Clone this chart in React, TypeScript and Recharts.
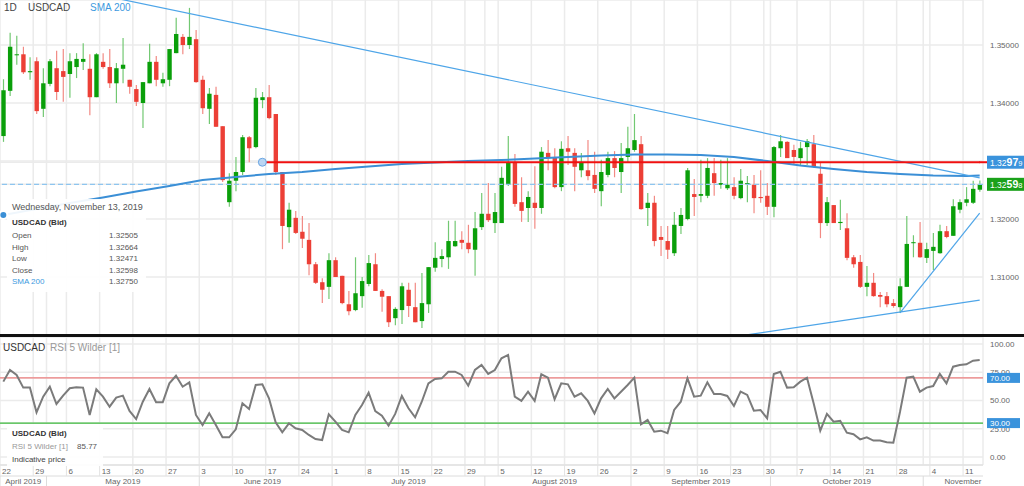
import React from "react"
import { Bar, CartesianGrid, ComposedChart, Line, ReferenceDot, ReferenceLine, XAxis, YAxis } from "recharts"

// USDCAD daily bid candles, 22 Apr 2019 .. 13 Nov 2019 (one entry per trading day)
const opens = [
  1.3343, 1.3421, 1.3483, 1.3484, 1.3453, 1.3472, 1.339, 1.3433, 1.346, 1.3455,
  1.345, 1.3462, 1.3471, 1.3459, 1.341, 1.3471, 1.3462, 1.3434, 1.3459, 1.344,
  1.3424, 1.34, 1.3434, 1.3471, 1.3434, 1.344, 1.3486, 1.3514, 1.35, 1.351,
  1.344, 1.339, 1.3414, 1.336, 1.3229, 1.3266, 1.3281, 1.3341, 1.3324, 1.3405,
  1.341, 1.3381, 1.3281, 1.3186, 1.3202, 1.3178, 1.3164, 1.3122, 1.3091, 1.3083,
  1.3129, 1.3102, 1.3053, 1.3043, 1.3067, 1.3088, 1.3122, 1.3076, 1.3067, 1.3029,
  1.3043, 1.3078, 1.3048, 1.3024, 1.3053, 1.3116, 1.3131, 1.3134, 1.3153, 1.3164,
  1.3159, 1.3147, 1.3186, 1.3209, 1.3193, 1.3193, 1.326, 1.3298, 1.3229, 1.3219,
  1.3228, 1.3219, 1.3314, 1.3307, 1.3255, 1.3322, 1.3314, 1.3284, 1.3284, 1.3276,
  1.3248, 1.3276, 1.3305, 1.3281, 1.3307, 1.3319, 1.3329, 1.3219, 1.3228, 1.3169,
  1.3162, 1.3141, 1.3188, 1.32, 1.3243, 1.324, 1.324, 1.3279, 1.3259, 1.3253,
  1.3255, 1.3236, 1.326, 1.3259, 1.3238, 1.324, 1.3221, 1.3322, 1.3333, 1.3319,
  1.3305, 1.3324, 1.3329, 1.3278, 1.3193, 1.3224, 1.3193, 1.3184, 1.3134, 1.3126,
  1.3083, 1.309, 1.3069, 1.3067, 1.3055, 1.3048, 1.3083, 1.3159, 1.3159, 1.3133,
  1.3145, 1.3141, 1.3179, 1.3171, 1.3216, 1.3228, 1.3228, 1.32505,
]
const highs = [
  1.3441, 1.3521, 1.3516, 1.3497, 1.3479, 1.3479, 1.346, 1.3476, 1.349, 1.3493,
  1.3486, 1.3486, 1.3503, 1.3484, 1.3486, 1.3486, 1.3493, 1.3469, 1.3512, 1.344,
  1.3431, 1.3436, 1.3502, 1.3481, 1.3452, 1.3493, 1.3547, 1.3519, 1.3564, 1.3526,
  1.3447, 1.3426, 1.3428, 1.336, 1.3279, 1.3307, 1.3345, 1.3343, 1.3426, 1.3419,
  1.3431, 1.3381, 1.3281, 1.3228, 1.3214, 1.3205, 1.3193, 1.3126, 1.3098, 1.3141,
  1.3134, 1.3102, 1.3076, 1.3134, 1.31, 1.3138, 1.3141, 1.3079, 1.3067, 1.3048,
  1.309, 1.309, 1.309, 1.3107, 1.3117, 1.316, 1.3148, 1.3197, 1.3197, 1.3179,
  1.319, 1.3212, 1.3245, 1.3262, 1.3245, 1.329, 1.3343, 1.3312, 1.3272, 1.3248,
  1.3291, 1.3324, 1.3336, 1.3322, 1.3334, 1.3343, 1.3322, 1.3314, 1.3336, 1.3316,
  1.3302, 1.3316, 1.3317, 1.3331, 1.3359, 1.3381, 1.3343, 1.3245, 1.324, 1.3188,
  1.3188, 1.3212, 1.3219, 1.3288, 1.3269, 1.3302, 1.3305, 1.3305, 1.3302, 1.3305,
  1.3272, 1.3286, 1.3274, 1.3276, 1.3284, 1.3262, 1.3326, 1.3345, 1.3334, 1.3328,
  1.3333, 1.3338, 1.3345, 1.3298, 1.3238, 1.3224, 1.3233, 1.321, 1.3138, 1.3138,
  1.3119, 1.3107, 1.3074, 1.3074, 1.3062, 1.3098, 1.3205, 1.3172, 1.3195, 1.3159,
  1.3176, 1.319, 1.3188, 1.3234, 1.3234, 1.3255, 1.3266, 1.32664,
]
const lows = [
  1.3333, 1.3412, 1.3466, 1.345, 1.344, 1.3381, 1.3376, 1.3429, 1.3405, 1.3402,
  1.3409, 1.3443, 1.3457, 1.3379, 1.341, 1.3459, 1.3426, 1.34, 1.3434, 1.3416,
  1.3395, 1.3357, 1.3434, 1.3429, 1.3428, 1.3429, 1.3486, 1.3484, 1.3493, 1.3435,
  1.3381, 1.3364, 1.3359, 1.3264, 1.3221, 1.3248, 1.3276, 1.3298, 1.3322, 1.3391,
  1.3372, 1.3276, 1.3148, 1.3159, 1.3174, 1.315, 1.3103, 1.3088, 1.3055, 1.3062,
  1.31, 1.3053, 1.3034, 1.3041, 1.3047, 1.3084, 1.3076, 1.304, 1.3014, 1.3017,
  1.3019, 1.3031, 1.3022, 1.3012, 1.3038, 1.3109, 1.3117, 1.3114, 1.3152, 1.3148,
  1.3141, 1.3102, 1.3181, 1.3195, 1.3176, 1.3193, 1.3257, 1.3221, 1.3195, 1.3195,
  1.3183, 1.3209, 1.3284, 1.3253, 1.3248, 1.3293, 1.3248, 1.3272, 1.3267, 1.3245,
  1.3222, 1.3272, 1.3272, 1.3245, 1.3297, 1.3316, 1.3216, 1.3188, 1.3153, 1.3136,
  1.3131, 1.3136, 1.3174, 1.3198, 1.3205, 1.3229, 1.3236, 1.324, 1.3252, 1.325,
  1.3234, 1.3234, 1.3229, 1.321, 1.3228, 1.3207, 1.3203, 1.3307, 1.3305, 1.3293,
  1.3293, 1.3293, 1.3288, 1.3167, 1.3188, 1.3193, 1.3181, 1.3129, 1.3116, 1.3081,
  1.3067, 1.3066, 1.3048, 1.3048, 1.3047, 1.3038, 1.3083, 1.3134, 1.3133, 1.3124,
  1.3112, 1.314, 1.3167, 1.3171, 1.321, 1.3222, 1.3226, 1.32471,
]
const closes = [
  1.3422, 1.3497, 1.3484, 1.3453, 1.3455, 1.3386, 1.3434, 1.3472, 1.3419, 1.3445,
  1.3472, 1.3476, 1.3476, 1.341, 1.3484, 1.3462, 1.3434, 1.346, 1.3466, 1.3428,
  1.3402, 1.3436, 1.3471, 1.344, 1.3441, 1.3493, 1.3519, 1.35, 1.3514, 1.3436,
  1.3391, 1.3416, 1.3359, 1.3267, 1.3266, 1.3281, 1.3341, 1.3322, 1.3409, 1.341,
  1.3374, 1.3281, 1.3188, 1.3216, 1.3176, 1.3166, 1.3122, 1.309, 1.3078, 1.3129,
  1.31, 1.3055, 1.3041, 1.3072, 1.3093, 1.3124, 1.3076, 1.3066, 1.3022, 1.3045,
  1.3084, 1.305, 1.3022, 1.3055, 1.3117, 1.3133, 1.3136, 1.3162, 1.3162, 1.3159,
  1.3148, 1.3184, 1.3209, 1.3198, 1.3212, 1.3271, 1.3298, 1.3226, 1.3214, 1.3238,
  1.3219, 1.3316, 1.3305, 1.3255, 1.3321, 1.3316, 1.329, 1.3298, 1.3274, 1.3252,
  1.3281, 1.3305, 1.3288, 1.3305, 1.3322, 1.3336, 1.3217, 1.3228, 1.3162, 1.3164,
  1.3147, 1.319, 1.3207, 1.3284, 1.3238, 1.3243, 1.3288, 1.3262, 1.3262, 1.3259,
  1.324, 1.3266, 1.3262, 1.3236, 1.3236, 1.3221, 1.3324, 1.3334, 1.3305, 1.3307,
  1.3322, 1.3334, 1.329, 1.3193, 1.3229, 1.3193, 1.3195, 1.3133, 1.3122, 1.3083,
  1.309, 1.3067, 1.3066, 1.3053, 1.305, 1.3084, 1.3157, 1.316, 1.3134, 1.3148,
  1.3152, 1.3179, 1.3169, 1.3222, 1.3229, 1.3234, 1.3252, 1.32598,
]

// RSI 5 Wilder
const rsi = [
  66.7, 77.0, 72.6, 61.4, 61.4, 39.5, 53.4, 62.2, 46.9, 54.3,
  60.8, 61.7, 61.4, 37.2, 59.9, 53.4, 44.5, 52.5, 54.3, 40.7,
  33.6, 48.9, 60.2, 48.4, 48.4, 65.2, 71.9, 62.2, 66.1, 37.2,
  28.3, 38.6, 28.3, 17.4, 17.4, 24.5, 47.5, 42.5, 63.7, 64.3,
  51.9, 30.7, 21.8, 29.8, 25.4, 23.9, 19.5, 15.9, 15.0, 37.8,
  31.3, 23.9, 21.8, 37.2, 46.0, 56.9, 40.7, 36.6, 27.7, 38.1,
  54.0, 43.1, 35.1, 48.9, 65.2, 69.0, 69.6, 75.5, 75.5, 72.6,
  63.1, 77.0, 81.4, 73.5, 77.0, 87.3, 90.3, 53.4, 49.6, 57.8,
  49.6, 73.2, 70.2, 51.1, 65.2, 64.3, 53.4, 56.4, 49.6, 38.6,
  51.9, 60.2, 51.9, 57.8, 63.7, 70.2, 28.9, 32.7, 22.4, 23.3,
  21.0, 41.6, 48.9, 69.6, 53.4, 54.3, 66.1, 55.8, 55.8, 54.0,
  45.1, 57.8, 54.9, 41.0, 41.6, 34.2, 73.5, 75.5, 61.4, 61.7,
  66.7, 70.2, 47.5, 23.3, 38.1, 31.3, 32.1, 21.5, 20.1, 15.6,
  17.4, 14.5, 14.5, 13.0, 12.7, 39.8, 70.2, 71.1, 57.8, 61.4,
  62.8, 73.5, 65.2, 79.9, 81.4, 82.0, 85.2, 85.77,
]

// SMA 200 read once a week (Mondays) plus the last day
const smaVals = [
  1.32069, 1.32172, 1.32276, 1.32371, 1.32474, 1.32569, 1.32672, 1.32724, 1.32776, 1.3281,
  1.32862, 1.32905, 1.32948, 1.32974, 1.33, 1.33017, 1.33043, 1.33069, 1.33095, 1.33112,
  1.33112, 1.33103, 1.33069, 1.33, 1.32922, 1.32862, 1.3281, 1.32776, 1.3275, 1.32741, 1.3275,
]

const weekLabels = ["22", "29", "6", "13", "20", "27", "3", "10", "17", "24", "1", "8", "15", "22", "29",
  "5", "12", "19", "26", "2", "9", "16", "23", "30", "7", "14", "21", "28", "4", "11"]
const monthNames = ["April 2019", "May 2019", "June 2019", "July 2019", "August 2019",
  "September 2019", "October 2019", "November 2019"]
const monthStarts = [0, 7, 30, 50, 73, 95, 116, 139]
const monthLabelIdx = [3, 18, 39, 61, 83, 105, 127, 146]

const priceTicks = [1.31, 1.32, 1.33, 1.34, 1.35]
const rsiTicks = [0, 25, 50, 75, 100]
const rsiLevels = [70, 30]
const resistance = 1.32979
const lastBid = 1.32598
const resistanceFrom = 39

// drawn trend lines: [from index, from price, to index, to price]
const trendLines = [
  [0, 1.3621, 147, 1.3271],
  [110, 1.2997, 147, 1.306],
  [135, 1.3038, 147, 1.321],
]

const N = opens.length
const PLOT_W = 983
const BAND = PLOT_W / N
const FONT = "'Liberation Sans', Arial, Helvetica, sans-serif"
const BLUE = "#3a93dc"
const mondayIdx = weekLabels.map((_, k) => k * 5)
const smaIdx = [...mondayIdx, N - 1]
const gridIdx = Array.from(new Set([...mondayIdx, ...monthStarts])).sort((a, b) => a - b)

const rows = opens.map((open, i) => {
  const s = smaIdx.indexOf(i)
  return { i, open, high: highs[i], low: lows[i], close: closes[i], sma: s >= 0 ? smaVals[s] : null, rsi: rsi[i] }
})

const gridX = ({ offset }: any) => [
  ...gridIdx.map((i) => offset.left + (i * offset.width) / N),
  offset.left + offset.width,
]

function Candle(props: any) {
  const { x, y, width, height, payload } = props
  const { open, close, high, low } = payload
  const up = close >= open
  const k = high > low ? height / (high - low) : 0
  const yO = y + (high - open) * k
  const yC = y + (high - close) * k
  const cx = x + width / 2
  return (
    <g>
      <line x1={cx} x2={cx} y1={y} y2={y + height} stroke={up ? "#72c872" : "#f28a84"} strokeWidth={1.2} />
      <rect x={cx - 2.2} y={Math.min(yO, yC)} width={4.4} height={Math.max(1, Math.abs(yO - yC))} fill={up ? "#0a9f0a" : "#ec3f36"} />
    </g>
  )
}

function boxText(v: number, x: number, y: number) {
  const s = v.toFixed(5)
  return (
    <text x={x + 7} y={y + 3.5} fill="#fff" fontSize={8.5} fontFamily={FONT}>
      {s.slice(0, 4)}
      <tspan fontSize={10.5} fontWeight="bold">{s.slice(4, 6)}</tspan>
      <tspan fontSize={7.5}>{s.slice(6)}</tspan>
    </text>
  )
}

function PriceTick(p: any) {
  const v = p.payload.value
  const { x, y } = p
  if (v === resistance)
    return (
      <g>
        <line x1={x - 4} x2={x + 5} y1={y} y2={y} stroke="#f01010" strokeWidth={2} />
        <rect x={x + 4} y={y - 6.5} width={37} height={13} fill={BLUE} />
        {boxText(v, x, y)}
      </g>
    )
  if (v === lastBid)
    return (
      <g>
        <rect x={x + 4} y={y - 6.5} width={37} height={13} fill="#1aa11a" />
        {boxText(v, x, y)}
      </g>
    )
  // the 1.33000 label sits under the resistance box
  if (Math.abs(v - resistance) < 0.0005) return <g />
  return (
    <text x={x + 7} y={y + 3} fill="#666" fontSize={8} fontFamily={FONT}>
      {v.toFixed(5)}
    </text>
  )
}

function RsiTick(p: any) {
  const v = p.payload.value
  const { x, y } = p
  if (rsiLevels.includes(v))
    return (
      <g>
        <rect x={x + 4} y={y - 5} width={33} height={10} fill={BLUE} />
        <text x={x + 7} y={y + 3} fill="#fff" fontSize={8} fontFamily={FONT}>{v.toFixed(2)}</text>
      </g>
    )
  return (
    <text x={x + 7} y={y + 3} fill="#666" fontSize={8} fontFamily={FONT}>{v.toFixed(2)}</text>
  )
}

function DayTick(p: any) {
  const { x, y, payload } = p
  const gx = x - BAND / 2
  return (
    <g>
      <line x1={gx} x2={gx} y1={y} y2={y + 11} stroke="#e3e3e3" />
      <text x={gx + 2} y={y + 8.5} fill="#666" fontSize={8} fontFamily={FONT}>
        {weekLabels[mondayIdx.indexOf(payload.value)]}
      </text>
    </g>
  )
}

function MonthTick(p: any) {
  const { x, y, payload } = p
  const li = monthLabelIdx.indexOf(payload.value)
  if (li < 0) {
    const gx = x - BAND / 2
    return <line x1={gx} x2={gx} y1={y} y2={y + 10} stroke="#dcdcdc" />
  }
  const id = `mclip${li}`
  return (
    <g>
      <defs>
        <clipPath id={id}>
          <rect x={0} y={y - 10} width={PLOT_W} height={30} />
        </clipPath>
      </defs>
      <g clipPath={`url(#${id})`}>
        <text x={x} y={y + 8} textAnchor="middle" fill="#666" fontSize={8} fontFamily={FONT}>
          {monthNames[li]}
        </text>
      </g>
    </g>
  )
}

const last = N - 1
const infoRows: [string, string, string][] = [
  ["Open", opens[last].toFixed(5), "#555"],
  ["High", highs[last].toFixed(5), "#555"],
  ["Low", lows[last].toFixed(5), "#555"],
  ["Close", closes[last].toFixed(5), "#555"],
  ["SMA 200", smaVals[smaVals.length - 1].toFixed(5), "#3d9ae0"],
]

export default function App() {
  return (
    <div style={{ position: "relative", width: 1024, height: 486, fontFamily: FONT, overflow: "hidden", background: "#fff" }}>
      <style>{"body{margin:0}"}</style>

      <div style={{ position: "absolute", left: 0, top: 0 }}>
        <ComposedChart width={1024} height={335} data={rows} margin={{ top: 0, right: 0, bottom: 0, left: 0 }} barCategoryGap={0} barGap={0}>
          <CartesianGrid stroke="#ebebeb" strokeWidth={1.5} verticalCoordinatesGenerator={gridX} />
          <XAxis dataKey="i" type="category" scale="band" hide />
          <YAxis
            orientation="right"
            width={41}
            domain={[1.3, 1.35776]}
            allowDataOverflow
            ticks={[...priceTicks, lastBid, resistance]}
            interval={0}
            tick={(p: any) => <PriceTick {...p} />}
            tickLine={false}
            axisLine={false}
            tickSize={0}
            tickMargin={0}
          />
          <ReferenceLine y={lastBid} stroke="#8ec5ef" strokeDasharray="5 3" strokeWidth={1.3} />
          <Bar dataKey={(d: any) => [d.low, d.high]} shape={(p: any) => <Candle {...p} />} isAnimationActive={false} />
          <Line dataKey="sma" stroke="#3b8fd6" strokeWidth={2} dot={false} connectNulls isAnimationActive={false} />
          {trendLines.map(([x1, y1, x2, y2], k) => (
            <ReferenceLine
              key={k}
              segment={[{ x: x1, y: y1 }, { x: x2, y: y2 }]}
              stroke="#4ea5e8"
              strokeWidth={1.2}
              ifOverflow="hidden"
            />
          ))}
          <ReferenceLine
            segment={[{ x: resistanceFrom, y: resistance }, { x: last, y: resistance }]}
            stroke="#f01010"
            strokeWidth={2}
          />
          <ReferenceDot x={resistanceFrom} y={resistance} r={4} fill="#b9d5f3" stroke="#6aa6e2" strokeWidth={1} />
        </ComposedChart>
      </div>

      <div style={{ position: "absolute", left: 0, top: 334, width: 1024, height: 3, background: "#111" }} />

      <div style={{ position: "absolute", left: 0, top: 337 }}>
        <ComposedChart width={1024} height={149} data={rows} margin={{ top: 0, right: 0, bottom: 0, left: 0 }}>
          <CartesianGrid xAxisId="d" stroke="#ebebeb" strokeWidth={1.5} verticalCoordinatesGenerator={gridX} />
          <XAxis
            xAxisId="d"
            dataKey="i"
            type="category"
            scale="band"
            height={11}
            ticks={mondayIdx}
            interval={0}
            tick={(p: any) => <DayTick {...p} />}
            tickLine={false}
            tickSize={0}
            tickMargin={0}
            axisLine={{ stroke: "#dcdcdc" }}
          />
          <XAxis
            xAxisId="m"
            dataKey="i"
            type="category"
            scale="band"
            height={10}
            ticks={[...monthStarts, ...monthLabelIdx]}
            interval={0}
            tick={(p: any) => <MonthTick {...p} />}
            tickLine={false}
            tickSize={0}
            tickMargin={0}
            axisLine={{ stroke: "#dcdcdc" }}
          />
          <YAxis
            orientation="right"
            width={41}
            domain={[-7.1, 106.2]}
            allowDataOverflow
            ticks={[...rsiTicks, ...rsiLevels]}
            interval={0}
            tick={(p: any) => <RsiTick {...p} />}
            tickLine={false}
            axisLine={false}
            tickSize={0}
            tickMargin={0}
          />
          <ReferenceLine xAxisId="d" y={rsiLevels[0]} stroke="#ee7f7f" strokeWidth={1.3} />
          <ReferenceLine xAxisId="d" y={rsiLevels[1]} stroke="#3cba3c" strokeWidth={1.3} />
          <Line xAxisId="d" dataKey="rsi" stroke="#7b7b7b" strokeWidth={2} dot={false} isAnimationActive={false} />
        </ComposedChart>
      </div>

      {/* header texts */}
      <div style={{ position: "absolute", top: 2, left: 4, fontSize: 10, color: "#444", lineHeight: "12px" }}>1D</div>
      <div style={{ position: "absolute", top: 2, left: 28, fontSize: 10, color: "#444", lineHeight: "12px" }}>USDCAD</div>
      <div style={{ position: "absolute", top: 2, left: 90, fontSize: 10, color: "#3d9ae0", lineHeight: "12px" }}>SMA 200</div>

      <div style={{ position: "absolute", left: 7, top: 199, width: 139, height: 93, background: "rgba(255,255,255,0.92)", boxSizing: "border-box", padding: "2px 0 0 5px", fontSize: 8, color: "#555" }}>
        <div style={{ fontSize: 9, lineHeight: "13px", whiteSpace: "nowrap" }}>Wednesday, November 13, 2019</div>
        <div style={{ fontWeight: "bold", color: "#333", lineHeight: "14px", marginTop: 2 }}>USDCAD (Bid)</div>
        {infoRows.map(([label, value, color]) => (
          <div key={label} style={{ display: "flex", justifyContent: "space-between", width: 126, lineHeight: "11.5px" }}>
            <span style={{ color }}>{label}</span>
            <span>{value}</span>
          </div>
        ))}
      </div>

      <div style={{ position: "absolute", top: 342, left: 3, fontSize: 10, color: "#333", lineHeight: "12px", whiteSpace: "nowrap" }}>
        USDCAD <span style={{ color: "#999", marginLeft: 2 }}>RSI 5 Wilder [1]</span>
      </div>

      <div style={{ position: "absolute", left: 7, top: 424, width: 96, height: 42, background: "rgba(255,255,255,0.92)", boxSizing: "border-box", padding: "4px 0 0 5px", fontSize: 8 }}>
        <div style={{ fontWeight: "bold", color: "#333", lineHeight: "12px" }}>USDCAD (Bid)</div>
        <div style={{ lineHeight: "13px", whiteSpace: "nowrap" }}>
          <span style={{ color: "#999" }}>RSI 5 Wilder [1]</span>
          <span style={{ color: "#555", marginLeft: 9 }}>{rsi[last].toFixed(2)}</span>
        </div>
        <div style={{ lineHeight: "13px", color: "#444" }}>Indicative price</div>
      </div>
    </div>
  )
}
